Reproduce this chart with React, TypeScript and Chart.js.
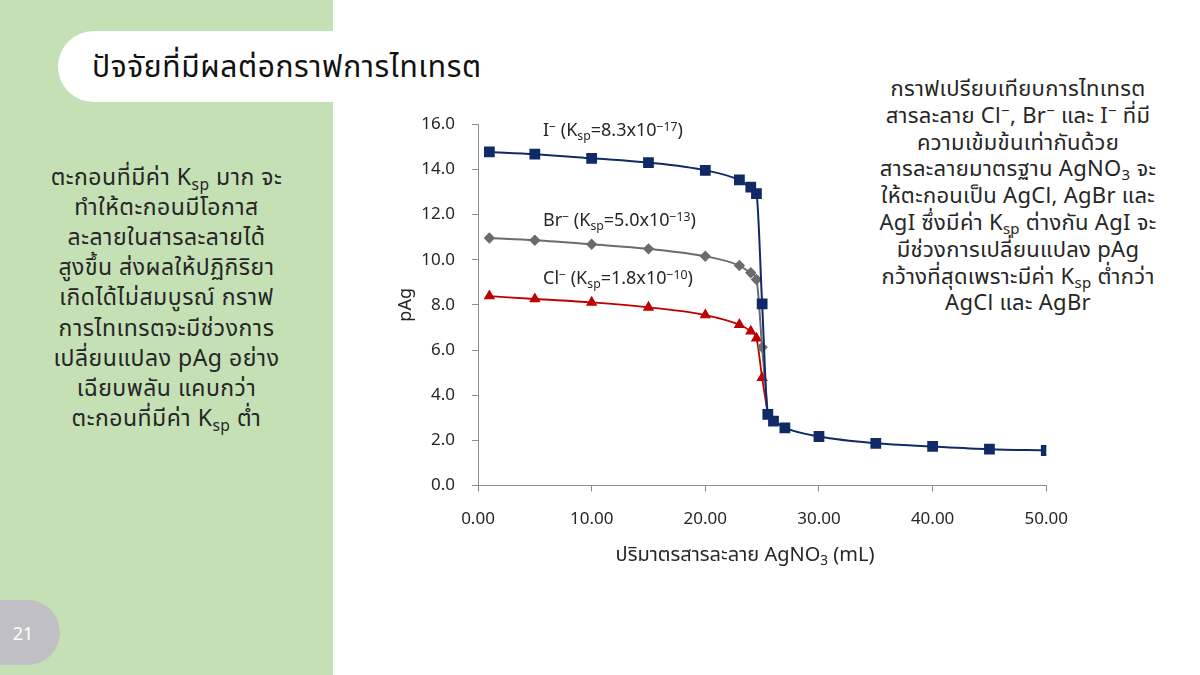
import React, { useEffect, useRef } from "react";
import { Chart, registerables } from "chart.js";

Chart.register(...registerables);

// ---- data ----
const volumeI = [1, 5, 10, 15, 20, 23, 24, 24.5, 25, 25.5, 26, 27, 30, 35, 40, 45, 50];
const pAgI = [14.77, 14.67, 14.49, 14.3, 13.96, 13.53, 13.21, 12.93, 8.04, 3.15, 2.85, 2.55, 2.17, 1.87, 1.73, 1.61, 1.55];
const volumeBrCl = [1, 5, 10, 15, 20, 23, 24, 24.5, 25, 25.5];
const pAgBr = [10.96, 10.86, 10.68, 10.48, 10.15, 9.74, 9.42, 9.12, 6.12, 3.15];
const pAgCl = [8.39, 8.26, 8.11, 7.89, 7.55, 7.12, 6.83, 6.52, 4.77, 3.15];
const seriesNames = ["I⁻", "Br⁻", "Cl⁻"];
const xMin = 0, xMax = 50, xStep = 10;
const yMin = 0, yMax = 16, yStep = 2;

const FONT = "'Noto Sans', 'Noto Sans Thai', 'DejaVu Sans', sans-serif";
const TEXT = "#262626";

const sub = (t: string) => (
  <span style={{ fontSize: "0.68em", verticalAlign: "-0.3em", lineHeight: 0 }}>{t}</span>
);
const sup = (t: string) => (
  <span style={{ fontSize: "0.68em", verticalAlign: "0.45em", lineHeight: 0 }}>{t}</span>
);

const leftLines: React.ReactNode[] = [
  <>ตะกอนที่มีค่า K{sub("sp")} มาก จะ</>,
  <>ทำให้ตะกอนมีโอกาส</>,
  <>ละลายในสารละลายได้</>,
  <>สูงขึ้น ส่งผลให้ปฏิกิริยา</>,
  <>เกิดได้ไม่สมบูรณ์ กราฟ</>,
  <>การไทเทรตจะมีช่วงการ</>,
  <>เปลี่ยนแปลง pAg อย่าง</>,
  <>เฉียบพลัน แคบกว่า</>,
  <>ตะกอนที่มีค่า K{sub("sp")} ต่ำ</>,
];

const rightLines: React.ReactNode[] = [
  <>กราฟเปรียบเทียบการไทเทรต</>,
  <>สารละลาย Cl{sup("−")}, Br{sup("−")} และ I{sup("−")} ที่มี</>,
  <>ความเข้มข้นเท่ากันด้วย</>,
  <>สารละลายมาตรฐาน AgNO{sub("3")} จะ</>,
  <>ให้ตะกอนเป็น AgCl, AgBr และ</>,
  <>AgI ซึ่งมีค่า K{sub("sp")} ต่างกัน AgI จะ</>,
  <>มีช่วงการเปลี่ยนแปลง pAg</>,
  <>กว้างที่สุดเพราะมีค่า K{sub("sp")} ต่ำกว่า</>,
  <>AgCl และ AgBr</>,
];

function ChartBox() {
  const ref = useRef<HTMLCanvasElement>(null);
  useEffect(() => {
    if (!ref.current) return;
    const toXY = (xs: number[], ys: number[]) => xs.map((x, i) => ({ x, y: ys[i] }));
    const hideLast = (n: number, r: number) => Array.from({ length: n }, (_, i) => (i === n - 1 ? 0 : r));
    const chart = new Chart(ref.current, {
      type: "line",
      data: {
        datasets: [
          {
            label: seriesNames[0],
            data: toXY(volumeI, pAgI),
            borderColor: "#0f2a66",
            backgroundColor: "#0f2a66",
            borderWidth: 2,
            pointStyle: "rect",
            pointRadius: 6.2,
            pointHoverRadius: 6.2,
            cubicInterpolationMode: "monotone",
          },
          {
            label: seriesNames[1],
            data: toXY(volumeBrCl, pAgBr),
            borderColor: "#6b6b6b",
            backgroundColor: "#6b6b6b",
            borderWidth: 2,
            pointStyle: "rectRot",
            pointRadius: hideLast(volumeBrCl.length, 4.3),
            cubicInterpolationMode: "monotone",
          },
          {
            label: seriesNames[2],
            data: toXY(volumeBrCl, pAgCl),
            borderColor: "#c00000",
            backgroundColor: "#c00000",
            borderWidth: 1.8,
            pointStyle: "triangle",
            pointRadius: hideLast(volumeBrCl.length, 4.8),
            cubicInterpolationMode: "monotone",
          },
        ],
      },
      options: {
        responsive: false,
        animation: false,
        layout: { padding: { left: 0, top: 22.7, right: 34.3, bottom: 0 } },
        plugins: { legend: { display: false }, tooltip: { enabled: false } },
        scales: {
          x: {
            type: "linear",
            min: xMin,
            max: xMax,
            afterFit: (s: any) => { s.height = 94.5; },
            border: { color: "#8c8c8c", width: 1 },
            grid: { drawOnChartArea: false, drawTicks: true, tickLength: 6, color: "#8c8c8c" },
            ticks: {
              stepSize: xStep,
              padding: 17,
              color: TEXT,
              font: { family: FONT, size: 17 },
              callback: (v: any) => Number(v).toFixed(2),
            },
          },
          y: {
            min: yMin,
            max: yMax,
            afterFit: (s: any) => { s.width = 98; },
            border: { color: "#8c8c8c", width: 1 },
            grid: { drawOnChartArea: false, drawTicks: true, tickLength: 6, color: "#8c8c8c" },
            ticks: {
              stepSize: yStep,
              padding: 17,
              color: TEXT,
              font: { family: FONT, size: 17 },
              callback: (v: any) => Number(v).toFixed(1),
            },
            title: {
              display: true,
              text: "pAg",
              color: TEXT,
              font: { family: FONT, size: 18 },
              padding: { top: 15, bottom: 0 },
            },
          },
        },
      },
    } as any);
    return () => chart.destroy();
  }, []);
  return (
    <canvas
      ref={ref}
      width={705}
      height={483}
      style={{ position: "absolute", left: 380, top: 97, width: 705, height: 483 }}
    />
  );
}

const chartLabels: { top: number; node: React.ReactNode }[] = [
  { top: 129, node: <>I{sup("−")} (K{sub("sp")}=8.3x10{sup("−17")})</> },
  { top: 219, node: <>Br{sup("−")} (K{sub("sp")}=5.0x10{sup("−13")})</> },
  { top: 277, node: <>Cl{sup("−")} (K{sub("sp")}=1.8x10{sup("−10")})</> },
];

export default function App() {
  return (
    <div
      style={{
        position: "fixed",
        left: 0,
        top: 0,
        width: 1200,
        height: 675,
        overflow: "hidden",
        background: "#ffffff",
        fontFamily: FONT,
        color: TEXT,
      }}
    >
      <div style={{ position: "absolute", left: 0, top: 0, width: 333, height: 675, background: "#c5e0b4" }} />
      <div
        style={{
          position: "absolute",
          left: 58,
          top: 31,
          width: 340,
          height: 71,
          background: "#ffffff",
          borderRadius: "36px 0 0 36px",
        }}
      />
      <div
        style={{
          position: "absolute",
          left: 92,
          top: 66,
          transform: "translateY(-50%)",
          fontSize: 30,
          letterSpacing: 0.6,
          color: "#111",
          whiteSpace: "nowrap",
          lineHeight: "42px",
        }}
      >
        ปัจจัยที่มีผลต่อกราฟการไทเทรต
      </div>

      <div
        style={{
          position: "absolute",
          left: -32,
          top: 600,
          width: 92,
          height: 65,
          borderRadius: 33,
          background: "#bfbfc5",
        }}
      />
      <div
        style={{
          position: "absolute",
          left: 0,
          top: 633,
          width: 46,
          transform: "translateY(-50%)",
          textAlign: "center",
          color: "#ffffff",
          fontSize: 18,
          lineHeight: "24px",
        }}
      >
        21
      </div>

      {leftLines.map((ln, i) => (
        <div
          key={"l" + i}
          style={{
            position: "absolute",
            left: 0,
            width: 333,
            top: 176 + i * 30.1 - 15,
            height: 30,
            lineHeight: "30px",
            textAlign: "center",
            fontSize: 23,
            letterSpacing: 0.5,
            whiteSpace: "nowrap",
          }}
        >
          {ln}
        </div>
      ))}

      {rightLines.map((ln, i) => (
        <div
          key={"r" + i}
          style={{
            position: "absolute",
            left: 858,
            width: 320,
            top: 87 + i * 26.8 - 14,
            height: 28,
            lineHeight: "28px",
            textAlign: "center",
            fontSize: 22,
            letterSpacing: 0.3,
            whiteSpace: "nowrap",
          }}
        >
          {ln}
        </div>
      ))}

      <ChartBox />

      {chartLabels.map((l, i) => (
        <div
          key={"c" + i}
          style={{
            position: "absolute",
            left: 543,
            top: l.top - 12,
            height: 24,
            lineHeight: "24px",
            fontSize: 18,
            whiteSpace: "nowrap",
          }}
        >
          {l.node}
        </div>
      ))}

      <div
        style={{
          position: "absolute",
          left: 545,
          width: 400,
          top: 542,
          height: 24,
          lineHeight: "24px",
          textAlign: "center",
          fontSize: 20,
          whiteSpace: "nowrap",
        }}
      >
        ปริมาตรสารละลาย AgNO{sub("3")} (mL)
      </div>
    </div>
  );
}
